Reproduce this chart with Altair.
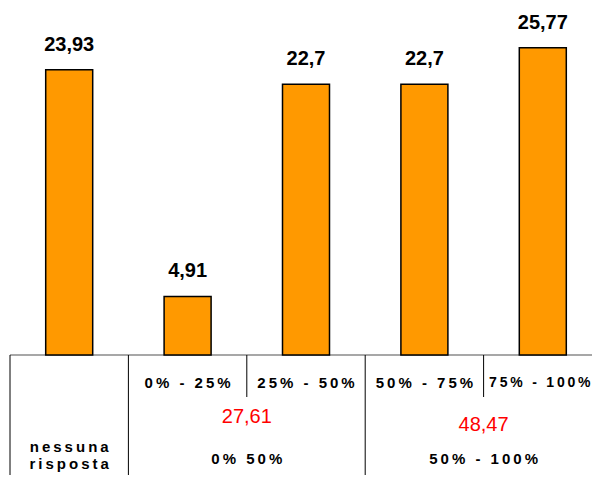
import altair as alt
import pandas as pd

# ---- data ----
categories = ["nessuna risposta", "0% - 25%", "25% - 50%", "50% - 75%", "75% - 100%"]
values = [23.93, 4.91, 22.7, 22.7, 25.77]
group_labels = ["0% 50%", "50% - 100%"]
group_sums = [27.61, 48.47]
group_members = [[1, 2], [3, 4]]

FONT = "Liberation Sans"


def it_num(v):
    return f"{v:g}".replace(".", ",")


def spaced(s):
    return "\n".join("\u2009".join(line) for line in s.split("\n"))


idx = list(range(len(categories)))
bars_df = pd.DataFrame({
    "i": idx,
    "cat": categories,
    "value": values,
    "label": [it_num(v) for v in values],
})

# the category strip runs past the right edge of the page, as in the reference
xs = alt.Scale(domain=[-0.5, len(categories) - 0.5], nice=False, zero=False,
               padding=0, range=[0, 592])
ys = alt.Scale(domain=[0, 29.1], nice=False, padding=0)

# baseline
base_df = pd.DataFrame({"x0": [-0.5], "x1": [len(categories) - 0.5], "y": [0]})
baseline = alt.Chart(base_df).mark_rule(color="#8a8a8a", strokeWidth=1.5).encode(
    x=alt.X("x0:Q", scale=xs, axis=None),
    x2="x1:Q",
    y=alt.Y("y:Q", scale=ys, axis=None),
)

bars = alt.Chart(bars_df).mark_bar(
    size=47, color="#FF9900", stroke="black", strokeWidth=1.5
).encode(
    x=alt.X("i:Q", scale=xs, axis=None),
    y=alt.Y("value:Q", scale=ys, axis=None),
)

value_text = alt.Chart(bars_df).mark_text(
    font=FONT, fontSize=20, fontWeight="bold", baseline="alphabetic", dy=-19, color="black"
).encode(
    x=alt.X("i:Q", scale=xs, axis=None),
    y=alt.Y("value:Q", scale=ys, axis=None),
    text="label:N",
)

# table separators: group boundaries (full height) and sub boundaries (short)
full_b = [-0.5, 0.5] + [g[-1] + 0.5 for g in group_members[:-1]]
short_b = [g[0] + 0.5 for g in group_members]
full_df = pd.DataFrame({"b": full_b})
short_df = pd.DataFrame({"b": short_b})
full_rules = alt.Chart(full_df).mark_rule(color="black", strokeWidth=1).encode(
    x=alt.X("b:Q", scale=xs, axis=None), y=alt.value(347), y2=alt.value(495)
)
short_rules = alt.Chart(short_df).mark_rule(color="black", strokeWidth=1).encode(
    x=alt.X("b:Q", scale=xs, axis=None), y=alt.value(347), y2=alt.value(389)
)

sub_df = pd.DataFrame({"i": idx[1:], "t": [spaced(c) for c in categories[1:]]})
sub_text = alt.Chart(sub_df.iloc[:-1]).mark_text(
    font=FONT, fontSize=15, fontWeight="bold", baseline="middle", color="black"
).encode(x=alt.X("i:Q", scale=xs, axis=None), y=alt.value(375), text="t:N")
sub_text_last = alt.Chart(sub_df.iloc[-1:]).mark_text(
    font=FONT, fontSize=14, fontWeight="bold", baseline="middle", color="black", dx=-3
).encode(x=alt.X("i:Q", scale=xs, axis=None), y=alt.value(375), text="t:N")

none_df = pd.DataFrame({"i": [0], "t": [spaced("nessuna\nrisposta")]})
none_text = alt.Chart(none_df).mark_text(
    font=FONT, fontSize=15, fontWeight="bold", baseline="middle", color="black",
    lineBreak="\n", lineHeight=17,
).encode(x=alt.X("i:Q", scale=xs, axis=None), y=alt.value(439), text="t:N")

gcent = [sum(g) / len(g) for g in group_members]
grp_df = pd.DataFrame({"c": gcent, "t": [spaced(g) for g in group_labels]})
grp_text = alt.Chart(grp_df).mark_text(
    font=FONT, fontSize=15, fontWeight="bold", baseline="middle", color="black"
).encode(x=alt.X("c:Q", scale=xs, axis=None), y=alt.value(451), text="t:N")

sum1 = alt.Chart(pd.DataFrame({"c": [gcent[0]], "t": [it_num(group_sums[0])]})).mark_text(
    font=FONT, fontSize=20, baseline="middle", color="#FF0000"
).encode(x=alt.X("c:Q", scale=xs, axis=None), y=alt.value(409), text="t:N")
sum2 = alt.Chart(pd.DataFrame({"c": [gcent[1]], "t": [it_num(group_sums[1])]})).mark_text(
    font=FONT, fontSize=20, baseline="middle", color="#FF0000"
).encode(x=alt.X("c:Q", scale=xs, axis=None), y=alt.value(417), text="t:N")

chart = alt.layer(
    baseline, full_rules, short_rules, bars, value_text, sub_text, sub_text_last,
    none_text, grp_text, sum1, sum2
).properties(
    width=582,
    height=347,
    autosize=alt.AutoSizeParams(type="none"),
    padding={"left": 2, "top": 0, "right": 0, "bottom": 120},
).configure_view(stroke=None)

chart.save("out.html", embed_options={"renderer": "svg", "actions": False})
